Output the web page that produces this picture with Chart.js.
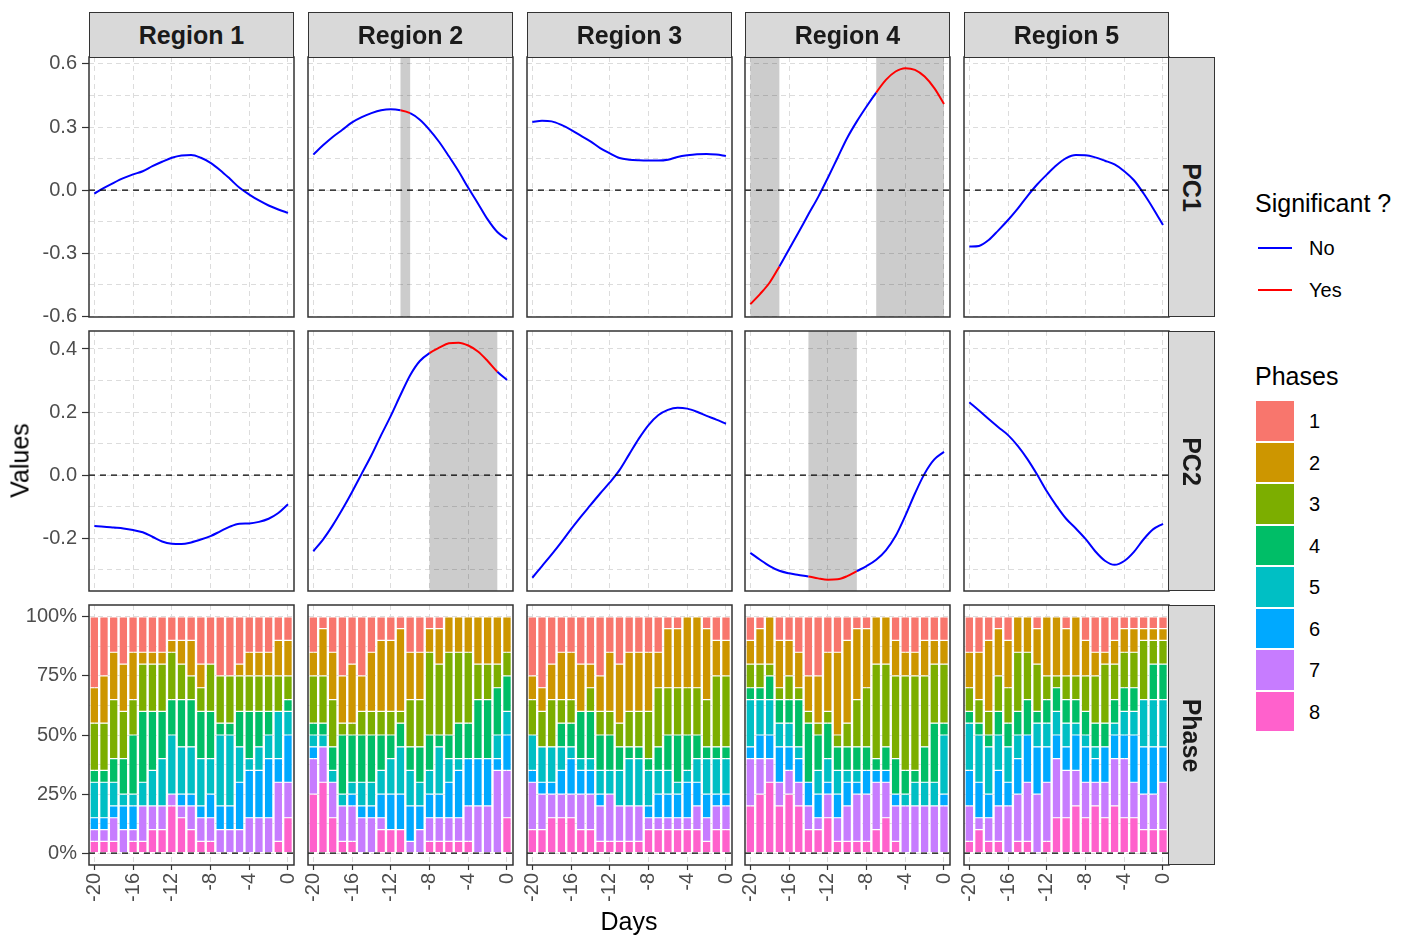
<!DOCTYPE html>
<html lang="en">
<head>
<meta charset="UTF-8">
<title>PC1 / PC2 / Phase by region</title>
<script src="https://cdn.jsdelivr.net/npm/chart.js"></script>
<style>
  body { margin: 0; background: #fff; font-family: "Liberation Sans", Arial, sans-serif; }
  #wrap { position: relative; width: 1416px; height: 936px; overflow: hidden; background: #fff; }
  canvas { position: absolute; }
  .strip { position: absolute; background: #d9d9d9; border: 1.5px solid #333; box-sizing: border-box;
           display: flex; align-items: center; justify-content: center;
           font-weight: bold; font-size: 25px; color: #1a1a1a; }
  .strip.side span { transform: rotate(90deg); white-space: nowrap; }
  .txt { position: absolute; white-space: nowrap; line-height: 1; color: #000; }
  .key-line { position: absolute; height: 2px; width: 34px; }
  .key-box { position: absolute; width: 40px; box-sizing: border-box; border: 1px solid #fff; }
</style>
</head>
<body>
<div id="wrap"></div>
<script>
const days = [-20, -19, -18, -17, -16, -15, -14, -13, -12, -11, -10, -9, -8, -7, -6, -5, -4, -3, -2, -1, 0];
const dayTicks = [-20, -16, -12, -8, -4, 0];
const regions = ['Region 1', 'Region 2', 'Region 3', 'Region 4', 'Region 5'];
const rowNames = ['PC1', 'PC2', 'Phase'];
const phaseNames = ['1', '2', '3', '4', '5', '6', '7', '8'];
const phaseColors = ['#F8766D', '#CD9600', '#7CAE00', '#00BE67', '#00BFC4', '#00A9FF', '#C77CFF', '#FF61CC'];

// PC1 values, one per day (-20 .. 0)
const pc1R1 = [-0.016, 0.011, 0.035, 0.057, 0.075, 0.09, 0.114, 0.135, 0.154, 0.165, 0.167, 0.154, 0.13, 0.095, 0.054, 0.011, -0.021, -0.049, -0.073, -0.092, -0.108];
const pc1R2 = [0.169, 0.213, 0.253, 0.287, 0.322, 0.347, 0.366, 0.38, 0.385, 0.38, 0.366, 0.335, 0.287, 0.229, 0.161, 0.09, 0.011, -0.063, -0.139, -0.199, -0.234];
const pc1R3 = [0.324, 0.33, 0.327, 0.31, 0.287, 0.259, 0.232, 0.2, 0.175, 0.153, 0.145, 0.142, 0.141, 0.141, 0.145, 0.158, 0.166, 0.171, 0.172, 0.169, 0.163];
const pc1R4 = [-0.542, -0.494, -0.439, -0.363, -0.281, -0.199, -0.115, -0.033, 0.058, 0.153, 0.248, 0.327, 0.398, 0.464, 0.524, 0.564, 0.58, 0.572, 0.54, 0.485, 0.41];
const pc1R5 = [-0.268, -0.265, -0.237, -0.191, -0.142, -0.088, -0.028, 0.027, 0.074, 0.118, 0.152, 0.167, 0.166, 0.156, 0.14, 0.122, 0.09, 0.047, -0.016, -0.088, -0.166];

// PC2 values
const pc2R1 = [-0.161, -0.163, -0.166, -0.169, -0.174, -0.181, -0.195, -0.21, -0.217, -0.218, -0.213, -0.204, -0.193, -0.178, -0.163, -0.154, -0.153, -0.148, -0.138, -0.12, -0.092];
const pc2R2 = [-0.241, -0.204, -0.159, -0.108, -0.053, 0.005, 0.063, 0.127, 0.188, 0.254, 0.317, 0.362, 0.387, 0.404, 0.418, 0.42, 0.411, 0.392, 0.362, 0.328, 0.302];
const pc2R3 = [-0.325, -0.288, -0.251, -0.212, -0.171, -0.132, -0.095, -0.058, -0.023, 0.016, 0.066, 0.116, 0.159, 0.19, 0.207, 0.214, 0.211, 0.201, 0.188, 0.176, 0.163];
const pc2R4 = [-0.246, -0.268, -0.288, -0.303, -0.311, -0.316, -0.321, -0.327, -0.331, -0.33, -0.32, -0.304, -0.288, -0.268, -0.238, -0.193, -0.129, -0.058, 0.005, 0.05, 0.074];
const pc2R5 = [0.231, 0.205, 0.178, 0.152, 0.127, 0.093, 0.051, 0.002, -0.051, -0.097, -0.138, -0.169, -0.202, -0.241, -0.271, -0.284, -0.272, -0.243, -0.203, -0.171, -0.154];

// significant day ranges (red line + grey band)
const sigPC1R2 = [[-11, -10]];
const sigPC1R4 = [[-20, -17], [-7, 0]];
const sigPC2R2 = [[-8, -1]];
const sigPC2R4 = [[-14, -9]];

// phase shares in %, per day: phases 1..8
const phaseR1 = [
  [30,15,20,5,15,5,5,5], [25,20,20,5,15,5,5,5], [15,20,25,10,10,5,10,5], [20,20,20,15,5,10,10,0],
  [15,20,15,25,5,10,5,5], [15,5,20,30,10,0,15,5], [15,5,20,25,15,0,10,10], [15,5,20,20,20,0,10,10],
  [10,5,20,15,25,0,5,20], [10,10,15,20,20,5,5,15], [10,15,10,20,20,5,10,10], [20,10,10,20,20,5,10,5],
  [20,0,20,20,15,10,10,5], [25,0,20,5,30,10,10,0], [25,0,20,5,30,10,10,0], [20,5,15,15,15,20,10,0],
  [15,10,15,20,5,20,15,0], [15,10,15,15,10,20,15,0], [15,10,15,10,10,25,15,0], [10,15,15,0,20,10,25,5],
  [10,15,10,5,10,20,15,15]
];
const phaseR2 = [
  [15,10,20,5,5,5,15,25], [5,20,20,5,5,0,15,30], [15,20,20,10,5,0,15,15], [25,20,5,25,5,0,15,5],
  [20,25,5,20,5,5,15,5], [25,15,10,20,10,5,15,0], [15,25,10,20,10,5,15,0], [10,30,10,15,10,10,5,10],
  [10,30,10,10,15,15,0,10], [5,35,5,10,20,15,0,10], [15,20,20,10,15,15,5,0], [15,20,20,15,10,10,10,0],
  [5,10,35,15,10,10,10,5], [5,15,30,5,20,10,10,5], [0,15,35,10,10,15,10,5], [0,15,30,15,5,20,10,5],
  [0,15,30,15,0,20,15,5], [0,20,15,25,0,20,20,0], [0,20,15,25,0,20,20,0], [0,20,10,20,10,5,35,0],
  [0,15,10,15,10,15,20,15]
];
const phaseR3 = [
  [25,10,15,0,15,5,20,10], [30,10,15,0,15,5,15,10], [20,15,20,0,15,5,10,15], [15,20,10,10,10,10,10,15],
  [15,20,10,10,5,15,10,15], [20,20,0,20,5,10,15,10], [20,10,10,20,5,10,15,10], [25,15,10,15,10,5,15,5],
  [15,25,10,15,10,0,20,5], [20,25,10,10,15,0,15,5], [15,25,15,5,20,0,15,5], [15,25,15,5,20,0,15,5],
  [15,25,20,5,15,5,5,10], [15,15,25,10,10,10,5,10], [5,25,20,15,10,10,5,10], [5,25,20,20,5,10,5,10],
  [0,30,20,15,5,15,5,10], [0,30,20,10,10,10,10,10], [5,30,20,5,15,10,10,5], [10,15,30,5,15,5,10,10],
  [10,15,30,5,15,5,10,10]
];
const phaseR4 = [
  [10,10,10,5,20,5,20,20], [5,15,10,5,15,10,15,25], [0,20,5,10,15,10,10,30], [10,20,5,10,10,15,10,20],
  [10,15,10,10,10,10,10,25], [15,15,5,20,5,10,10,20], [25,15,5,25,0,10,10,10], [25,20,5,15,10,10,5,10],
  [15,25,5,15,10,5,10,15], [15,35,5,10,10,10,10,5], [10,35,10,10,5,10,15,5], [5,30,20,10,5,5,20,5],
  [5,25,25,10,0,10,20,5], [0,20,40,5,0,5,20,10], [0,20,35,10,0,5,15,15], [10,15,35,15,0,5,15,5],
  [15,10,40,10,5,0,20,0], [15,10,40,5,10,0,20,0], [10,15,30,15,10,0,20,0], [10,10,25,25,10,0,20,0],
  [10,10,25,5,25,5,20,0]
];
const phaseR5 = [
  [15,15,10,5,20,15,15,5], [15,20,10,5,20,15,5,10], [10,30,10,5,20,10,10,5], [5,20,15,10,15,15,15,5],
  [10,20,15,10,15,10,20,0], [0,15,25,10,10,15,20,5], [0,15,20,15,0,20,25,5], [5,15,20,5,10,20,25,0],
  [0,25,10,10,10,15,25,5], [0,25,5,10,10,10,25,15], [5,20,10,10,10,10,20,15], [0,25,10,10,5,15,15,20],
  [10,15,15,10,5,15,15,15], [15,10,20,10,5,10,10,20], [15,5,25,10,0,15,15,15], [10,10,15,10,5,10,20,20],
  [5,10,15,10,10,10,25,15], [5,10,15,10,10,20,15,15], [5,5,25,0,20,20,15,10], [5,5,10,15,20,20,15,10],
  [5,5,10,15,20,15,20,10]
];

const pc1 = [pc1R1, pc1R2, pc1R3, pc1R4, pc1R5];
const pc2 = [pc2R1, pc2R2, pc2R3, pc2R4, pc2R5];
const phases = [phaseR1, phaseR2, phaseR3, phaseR4, phaseR5];
const sigPC1 = [[], sigPC1R2, [], sigPC1R4, []];
const sigPC2 = [[], sigPC2R2, [], sigPC2R4, []];

// panel geometry
const panelLeft = [89, 308, 527, 745, 964];
const panelW = 205;
const rowTop = [57, 331, 605];
const panelH = 260;
const padV = 12;   // room above/below each panel for the end tick labels
const xMin = -20.55, xMax = 0.62;
const gridColor = '#dcdcdc';
const tickFont = { family: '"Liberation Sans", Arial, sans-serif', size: 20 };

const yAxes = [
  { min: -0.603, max: 0.633, major: [-0.6, -0.3, 0, 0.3, 0.6], minor: [-0.45, -0.15, 0.15, 0.45], fmt: v => v.toFixed(1) },
  { min: -0.367, max: 0.457, major: [-0.2, 0, 0.2, 0.4], minor: [-0.3, -0.1, 0.1, 0.3], fmt: v => v.toFixed(1) },
  { min: -0.05, max: 1.05, major: [0, 0.25, 0.5, 0.75, 1], minor: [0.125, 0.375, 0.625, 0.875], fmt: v => Math.round(v * 100) + '%' }
];

// grey bands, dashed zero line and panel frame
function decor(bands) {
  return {
    id: 'decor',
    beforeDatasetsDraw(chart) {
      const { ctx, chartArea: a, scales: { x } } = chart;
      ctx.save();
      ctx.fillStyle = 'rgba(0,0,0,0.2)';
      bands.forEach(([s, e]) => {
        const x0 = x.getPixelForValue(s), x1 = x.getPixelForValue(e);
        ctx.fillRect(x0, a.top, x1 - x0, a.bottom - a.top);
      });
      ctx.restore();
    },
    afterDatasetsDraw(chart) {
      const { ctx, chartArea: a, scales: { y } } = chart;
      const y0 = y.getPixelForValue(0);
      ctx.save();
      ctx.strokeStyle = '#000';
      ctx.lineWidth = 1.2;
      ctx.setLineDash([6, 5]);
      ctx.beginPath();
      ctx.moveTo(a.left, y0);
      ctx.lineTo(a.right, y0);
      ctx.stroke();
      ctx.restore();
    },
    afterDraw(chart) {
      const { ctx, chartArea: a } = chart;
      ctx.save();
      ctx.strokeStyle = '#333';
      ctx.lineWidth = 1.5;
      ctx.strokeRect(a.left, a.top, a.right - a.left, a.bottom - a.top);
      ctx.restore();
    }
  };
}

function baseOptions(row, col) {
  const ya = yAxes[row];
  const leftCol = col === 0, bottom = row === 2;
  const yTicks = [...ya.major, ...ya.minor].sort((a, b) => a - b);
  const isMajor = v => ya.major.some(m => Math.abs(m - v) < 1e-9);
  return {
    responsive: false,
    animation: false,
    devicePixelRatio: 1,
    events: [],
    layout: { padding: { left: 0, right: 8, top: padV, bottom: bottom ? 0 : padV } },
    plugins: { legend: { display: false }, tooltip: { enabled: false } },
    scales: {
      x: {
        type: 'linear', min: xMin, max: xMax, offset: false, stacked: bottom,
        afterBuildTicks: s => { s.ticks = dayTicks.map(v => ({ value: v })); },
        afterFit: s => { s.height = bottom ? 72 : 0; s.paddingLeft = 0; s.paddingRight = 0; },
        grid: { color: gridColor, lineWidth: 1, offset: false, drawTicks: bottom, tickLength: 5,
                tickColor: '#333', tickWidth: 1.2, tickBorderDash: [] },
        border: { display: false, dash: [5, 4] },
        ticks: { display: bottom, minRotation: 90, maxRotation: 90, padding: 3, autoSkip: false,
                 color: '#4d4d4d', font: tickFont, callback: v => String(v) }
      },
      y: {
        type: 'linear', min: ya.min, max: ya.max, stacked: bottom,
        afterBuildTicks: s => { s.ticks = yTicks.map(v => ({ value: v })); },
        afterFit: s => { s.width = leftCol ? 89 : 12; s.paddingTop = 0; s.paddingBottom = 0; },
        grid: { color: gridColor, lineWidth: 1, drawTicks: leftCol, tickLength: 7, tickWidth: 1.2,
                tickBorderDash: [],
                tickColor: c => (c.tick && isMajor(c.tick.value)) ? '#333' : 'rgba(0,0,0,0)' },
        border: { display: false, dash: [5, 4] },
        ticks: { display: leftCol, padding: 5, autoSkip: false, color: '#4d4d4d', font: tickFont,
                 callback: v => isMajor(v) ? ya.fmt(v) : '' }
      }
    }
  };
}

function lineChart(canvas, row, col) {
  const vals = row === 0 ? pc1[col] : pc2[col];
  const sig = row === 0 ? sigPC1[col] : sigPC2[col];
  const inSig = (a, b) => sig.some(([s, e]) => a >= s && b <= e);
  return new Chart(canvas, {
    type: 'line',
    data: {
      datasets: [{
        data: days.map((d, i) => ({ x: d, y: vals[i] })),
        borderColor: 'blue',
        borderWidth: 2,
        pointRadius: 0,
        cubicInterpolationMode: 'monotone',
        segment: { borderColor: c => inSig(c.p0.parsed.x, c.p1.parsed.x) ? 'red' : 'blue' }
      }]
    },
    options: baseOptions(row, col),
    plugins: [decor(sig)]
  });
}

function phaseChart(canvas, col) {
  const rows = phases[col];
  const datasets = [];
  // phase 8 sits at the bottom of each stack, phase 1 on top
  for (let p = 7; p >= 0; p--) {
    datasets.push({
      label: phaseNames[p],
      data: days.map((d, i) => ({ x: d, y: rows[i][p] ? rows[i][p] / 100 : null })),
      backgroundColor: phaseColors[p],
      borderColor: 'rgba(255,255,255,0.85)',
      borderWidth: 0.6,
      borderSkipped: false,
      categoryPercentage: 0.88,
      barPercentage: 1
    });
  }
  return new Chart(canvas, {
    type: 'bar',
    data: { datasets },
    options: baseOptions(2, col),
    plugins: [decor([])]
  });
}

const wrap = document.getElementById('wrap');

function addText(text, x, y, size, opts = {}) {
  const el = document.createElement('div');
  el.className = 'txt';
  el.textContent = text;
  el.style.fontSize = size + 'px';
  el.style.left = x + 'px';
  el.style.top = (y - size / 2) + 'px';
  if (opts.center) el.style.transform = 'translateX(-50%)';
  wrap.appendChild(el);
  return el;
}

for (let row = 0; row < 3; row++) {
  for (let col = 0; col < 5; col++) {
    const mL = col === 0 ? 89 : 12;
    const w = mL + panelW + 8;
    const h = padV + panelH + (row === 2 ? 72 : padV);
    const cv = document.createElement('canvas');
    cv.width = w; cv.height = h;
    cv.style.width = w + 'px'; cv.style.height = h + 'px';
    cv.style.left = (panelLeft[col] - mL) + 'px';
    cv.style.top = (rowTop[row] - padV) + 'px';
    wrap.appendChild(cv);
    if (row < 2) lineChart(cv, row, col); else phaseChart(cv, col);
  }
}

// facet strips
regions.forEach((name, col) => {
  const s = document.createElement('div');
  s.className = 'strip';
  s.style.left = panelLeft[col] + 'px';
  s.style.top = '12px';
  s.style.width = panelW + 'px';
  s.style.height = '46px';
  s.textContent = name;
  wrap.appendChild(s);
});
rowNames.forEach((name, row) => {
  const s = document.createElement('div');
  s.className = 'strip side';
  s.style.left = '1168px';
  s.style.top = rowTop[row] + 'px';
  s.style.width = '47px';
  s.style.height = panelH + 'px';
  const sp = document.createElement('span');
  sp.textContent = name;
  s.appendChild(sp);
  wrap.appendChild(s);
});

// axis titles
addText('Days', 629, 921, 25, { center: true });
const vt = addText('Values', 20, 460, 25);
vt.style.transform = 'translate(-50%, 0) rotate(-90deg)';

// legend: significance
addText('Significant ?', 1255, 203, 25);
[['No', 'blue', 248], ['Yes', 'red', 290]].forEach(([lab, color, y]) => {
  const l = document.createElement('div');
  l.className = 'key-line';
  l.style.left = '1258px';
  l.style.top = (y - 1) + 'px';
  l.style.background = color;
  wrap.appendChild(l);
  addText(lab, 1309, y, 20);
});

// legend: phases
addText('Phases', 1255, 376, 25);
phaseNames.forEach((lab, i) => {
  const b = document.createElement('div');
  b.className = 'key-box';
  b.style.left = '1255px';
  b.style.top = (400 + i * 41.5) + 'px';
  b.style.height = '41.5px';
  b.style.background = phaseColors[i];
  wrap.appendChild(b);
  addText(lab, 1309, 421 + i * 41.5, 20);
});
</script>
</body>
</html>
